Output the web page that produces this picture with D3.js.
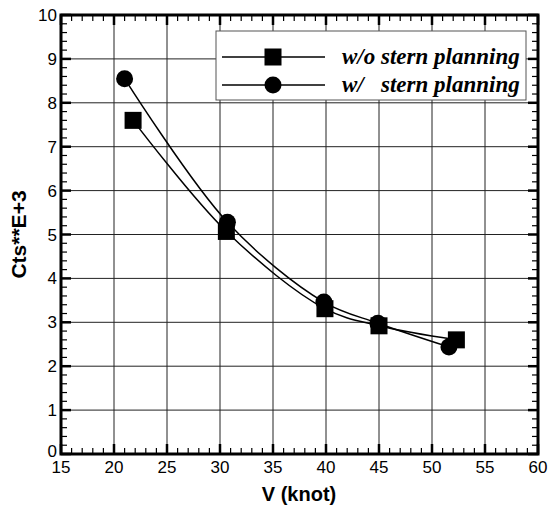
<!DOCTYPE html>
<html>
<head>
<meta charset="utf-8">
<script src="https://cdn.jsdelivr.net/npm/d3@7"></script>
<style>
  body { margin: 0; background: #fff; }
  svg { display: block; }
</style>
</head>
<body>
<div id="chart"></div>
<script>
// data
const seriesNames = ['w/o stern planning', 'w/   stern planning'];
const woSpeed = [21.8, 30.6, 39.9, 45.0, 52.3];
const woCts   = [7.6, 5.07, 3.31, 2.92, 2.6];
const wSpeed  = [21.0, 30.7, 39.8, 44.9, 51.6];
const wCts    = [8.55, 5.28, 3.46, 2.98, 2.44];
const xTicks = [15, 20, 25, 30, 35, 40, 45, 50, 55, 60];
const yTicks = [0, 1, 2, 3, 4, 5, 6, 7, 8, 9, 10];

const width = 548, height = 510;
const margin = { top: 15, right: 10, bottom: 56, left: 61 };
const innerW = width - margin.left - margin.right;
const innerH = height - margin.top - margin.bottom;

const svg = d3.select('#chart').append('svg')
    .attr('width', width)
    .attr('height', height);

const g = svg.append('g')
    .attr('transform', `translate(${margin.left},${margin.top})`);

const x = d3.scaleLinear().domain([15, 60]).range([0, innerW]);
const y = d3.scaleLinear().domain([0, 10]).range([innerH, 0]);

// grid
g.append('g').selectAll('line')
    .data(xTicks.slice(1, -1))
    .enter().append('line')
    .attr('x1', d => x(d)).attr('x2', d => x(d))
    .attr('y1', 0).attr('y2', innerH)
    .attr('stroke', '#222').attr('stroke-width', 1);
g.append('g').selectAll('line')
    .data(yTicks.slice(1, -1))
    .enter().append('line')
    .attr('x1', 0).attr('x2', innerW)
    .attr('y1', d => y(d)).attr('y2', d => y(d))
    .attr('stroke', '#222').attr('stroke-width', 1);

// ticks on all four sides, pointing inward
const xMinor = d3.range(15, 60.01, 1);
const yMinor = d3.range(0, 10.01, 0.2);
function tickSet(cls, data, major, fn) {
    g.append('g').selectAll('line.' + cls)
        .data(data)
        .enter().append('line')
        .attr('class', cls)
        .each(function(d) { fn(d3.select(this), d, major(d)); })
        .attr('stroke', '#000')
        .attr('stroke-width', d => major(d) ? 2.5 : 1.2);
}
const isMajX = d => Math.abs(d % 5) < 1e-6;
const isMajY = d => Math.abs(d - Math.round(d)) < 1e-6;
tickSet('bx', xMinor, isMajX, (s, d, m) => s.attr('x1', x(d)).attr('x2', x(d)).attr('y1', innerH).attr('y2', innerH - (m ? 10 : 6)));
tickSet('tx', xMinor, isMajX, (s, d, m) => s.attr('x1', x(d)).attr('x2', x(d)).attr('y1', 0).attr('y2', (m ? 10 : 6)));
tickSet('ly', yMinor, isMajY, (s, d, m) => s.attr('x1', 0).attr('x2', (m ? 10 : 6)).attr('y1', y(d)).attr('y2', y(d)));
tickSet('ry', yMinor, isMajY, (s, d, m) => s.attr('x1', innerW).attr('x2', innerW - (m ? 10 : 6)).attr('y1', y(d)).attr('y2', y(d)));

// frame
g.append('rect')
    .attr('width', innerW).attr('height', innerH)
    .attr('fill', 'none').attr('stroke', '#000').attr('stroke-width', 3);

// tick labels
g.append('g').selectAll('text')
    .data(xTicks)
    .enter().append('text')
    .attr('x', d => x(d)).attr('y', innerH + 19)
    .attr('text-anchor', 'middle')
    .attr('font-family', 'Liberation Sans, Arial, sans-serif')
    .attr('font-size', 17)
    .text(d => d);
g.append('g').selectAll('text')
    .data(yTicks)
    .enter().append('text')
    .attr('x', -4).attr('y', d => y(d) + (d === 0 ? 3 : 6))
    .attr('text-anchor', 'end')
    .attr('font-family', 'Liberation Sans, Arial, sans-serif')
    .attr('font-size', 17)
    .text(d => d);

// axis titles
svg.append('text')
    .attr('x', 299).attr('y', 501)
    .attr('text-anchor', 'middle')
    .attr('font-family', 'Liberation Sans, Arial, sans-serif')
    .attr('font-size', 20).attr('font-weight', 'bold')
    .text('V (knot)');
svg.append('text')
    .attr('transform', `translate(26,${margin.top + innerH / 2}) rotate(-90)`)
    .attr('text-anchor', 'middle')
    .attr('font-family', 'Liberation Sans, Arial, sans-serif')
    .attr('font-size', 21).attr('font-weight', 'bold')
    .text('Cts**E+3');

// curves
const woData = woSpeed.map((v, i) => [v, woCts[i]]);
const wData = wSpeed.map((v, i) => [v, wCts[i]]);
const line = d3.line()
    .x(d => x(d[0])).y(d => y(d[1]))
    .curve(d3.curveCatmullRom.alpha(0.5));

[woData, wData].forEach(data => {
    g.append('path')
        .datum(data)
        .attr('d', line)
        .attr('fill', 'none')
        .attr('stroke', '#000')
        .attr('stroke-width', 1.5);
});

const sq = 17;
g.append('g').selectAll('rect')
    .data(woData)
    .enter().append('rect')
    .attr('x', d => x(d[0]) - sq / 2).attr('y', d => y(d[1]) - sq / 2)
    .attr('width', sq).attr('height', sq)
    .attr('fill', '#000');
g.append('g').selectAll('circle')
    .data(wData)
    .enter().append('circle')
    .attr('cx', d => x(d[0])).attr('cy', d => y(d[1]))
    .attr('r', 8.5)
    .attr('fill', '#000');

// legend
const legend = svg.append('g').attr('transform', 'translate(216,31)');
legend.append('rect')
    .attr('width', 310).attr('height', 69)
    .attr('fill', '#fff').attr('stroke', '#555').attr('stroke-width', 1);
seriesNames.forEach((name, i) => {
    const ry = 26 + i * 28;
    legend.append('line')
        .attr('x1', 6).attr('x2', 109)
        .attr('y1', ry).attr('y2', ry)
        .attr('stroke', '#000').attr('stroke-width', 1.5);
    if (i === 0) {
        legend.append('rect')
            .attr('x', 57 - sq / 2).attr('y', ry - sq / 2)
            .attr('width', sq).attr('height', sq).attr('fill', '#000');
    } else {
        legend.append('circle')
            .attr('cx', 57).attr('cy', ry).attr('r', 8.5).attr('fill', '#000');
    }
    legend.append('text')
        .attr('x', 126).attr('y', ry + 7)
        .attr('font-family', 'Liberation Serif, Times New Roman, serif')
        .attr('font-size', 23).attr('font-weight', 'bold').attr('font-style', 'italic')
        .attr('xml:space', 'preserve')
        .style('white-space', 'pre')
        .text(name);
});
</script>
</body>
</html>
